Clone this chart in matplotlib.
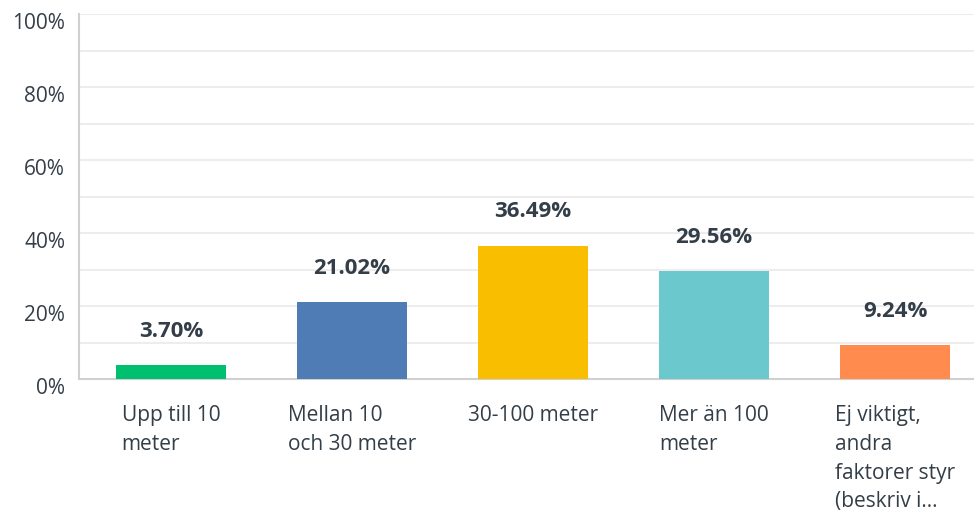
import matplotlib
matplotlib.use('Agg')
import matplotlib.pyplot as plt

categories = ['Upp till 10\nmeter', 'Mellan 10\noch 30 meter', '30-100 meter',
              'Mer än 100\nmeter', 'Ej viktigt,\nandra\nfaktorer styr\n(beskriv i...']
values = [3.70, 21.02, 36.49, 29.56, 9.24]
colors = ['#00BF6F', '#507CB6', '#F9BE00', '#6BC8CD', '#FF8B4F']
yticks = [0, 20, 40, 60, 80, 100]

txt = '#333E48'
plt.rcParams['font.family'] = ['Open Sans', 'DejaVu Sans']

fig = plt.figure(figsize=(9.74, 5.12), dpi=100)
W, H = 974, 512
ax = fig.add_axes([79 / W, 1 - 379 / H, (974 - 79) / W, (379 - 14) / H])

x = list(range(len(values)))
ax.bar(x, values, width=110 / 181, color=colors, zorder=3)
ax.set_xlim(-92 / 181, -92 / 181 + 895 / 181)
ax.set_ylim(0, 100)

for yv in range(10, 101, 10):
    ax.axhline(yv, color='#EDEDED', lw=1.5, zorder=1)

for s in ['top', 'right']:
    ax.spines[s].set_visible(False)
ax.spines['left'].set_color('#D0D0D0')
ax.spines['left'].set_linewidth(1.5)
ax.spines['bottom'].set_color('#D0D0D0')
ax.spines['bottom'].set_linewidth(1.5)
ax.set_xticks([])
ax.set_yticks([])

for t in yticks:
    ax.annotate(f'{t}%', xy=(0, t), xycoords=('axes fraction', 'data'),
                xytext=(-10, -6.5), textcoords='offset points',
                ha='right', va='center', fontsize=15, color=txt)

for xi, v in zip(x, values):
    ax.annotate(f'{v:.2f}%', xy=(xi, v), xytext=(0, 24.5), textcoords='offset points',
                ha='center', va='center', fontsize=16, fontweight='bold', color=txt)

for xi, lab in zip(x, categories):
    ax.annotate(lab, xy=(xi, 0), xytext=(0, -19), textcoords='offset points',
                ha='center', va='top', multialignment='left', fontsize=15,
                color=txt, linespacing=1.48, annotation_clip=False)

fig.savefig('out.png', dpi=100)
